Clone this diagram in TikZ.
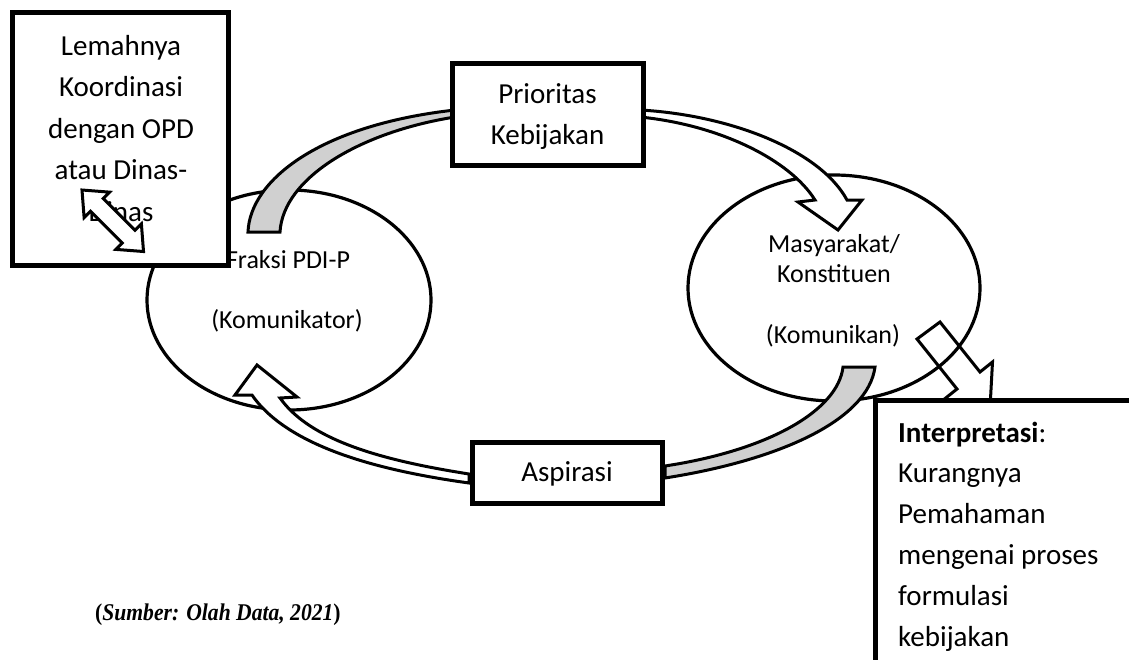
\documentclass[tikz,border=0pt]{standalone}
\usepackage{fontspec}
\setmainfont{Carlito}
\newfontfamily\capfont[FakeStretch=0.9]{Liberation Serif}
\usetikzlibrary{shapes.geometric}
\definecolor{bandgrey}{RGB}{208,208,208}
\tikzset{
  boxthick/.style={draw, line width=5pt, fill=white, inner sep=0pt, outer sep=0pt},
  ovalline/.style={ellipse, draw, line width=3.2pt, inner sep=0pt},
  bandwhite/.style={draw, line width=3pt, fill=white, line join=miter},
  bandgray/.style={draw, line width=3pt, fill=bandgrey, line join=miter},
  boxtxt/.style={font=\fontsize{29}{35}\selectfont, anchor=base, inner sep=0pt},
  ovaltxt/.style={font=\fontsize{26}{31}\selectfont, anchor=base, inner sep=0pt},
  captxt/.style={font=\capfont\fontsize{24}{28}\selectfont\bfseries, anchor=base west, inner sep=0pt}
}
\begin{document}
\begin{tikzpicture}[x=1pt,y=-1pt]
\useasboundingbox (0,0) rectangle (1129,659);
\clip (0,0) rectangle (1129,659);

% small arrow towards Interpretasi
\draw[bandwhite] (917,339) -- (940,322) -- (980,372) -- (992.5,362) -- (990,408)
  -- (944.5,399) -- (957,389) -- cycle;

% ellipses
\node[ovalline, minimum width=284pt, minimum height=220pt] (fraksi) at (289,300) {};
\node[ovalline, minimum width=292pt, minimum height=226pt] (masy) at (834,288) {};

% gray band top-left (Fraksi -> Prioritas)
\draw[bandgray] (248,232) .. controls (250,180) and (320,125) .. (455,110)
  -- (455,117) .. controls (360,132) and (283,178) .. (280,232) -- cycle;

% white arrow top-right (Prioritas -> Masyarakat)
\draw[bandwhite] (640,110) .. controls (730,115) and (820,150) .. (847,200)
  -- (862,200) -- (838,230) -- (798,202) -- (815,200)
  .. controls (790,160) and (720,125) .. (640,117) -- cycle;

% gray band bottom-right (Masyarakat -> Aspirasi)
\draw[bandgray] (843,367) -- (875,367) .. controls (868,420) and (780,460) .. (665,478)
  -- (665,466) .. controls (770,450) and (838,410) .. (843,367) -- cycle;

% white arrow bottom-left (Aspirasi -> Fraksi)
\draw[bandwhite] (469,474) .. controls (380,460) and (310,440) .. (280,398)
  -- (297,397) -- (257,365) -- (235,395) -- (252,395)
  .. controls (290,450) and (390,472) .. (469,483) -- cycle;

% boxes
\node[boxthick, minimum width=216pt, minimum height=253pt] (lemah) at (120,138.5) {};
\node[boxthick, minimum width=191pt, minimum height=102pt] (prio) at (547.5,114) {};
\node[boxthick, minimum width=190pt, minimum height=61pt] (aspi) at (567,472.5) {};
\node[boxthick, minimum width=265pt, minimum height=280pt] (interp) at (1007.5,540) {};

% texts in left box
\node[boxtxt] (l1) at (121,55) {Lemahnya};
\node[boxtxt] (l2) at (121,96.5) {Koordinasi};
\node[boxtxt] (l3) at (121,138) {dengan OPD};
\node[boxtxt] (l4) at (121,179.5) {atau Dinas-};
\node[boxtxt] (l5) at (121,221) {Dinas};

% double arrow in left box
\begin{scope}[shift={(82,190)}, rotate=-45]
\draw[bandwhite] (0,0) -- (21,18) -- (21,9) -- (66,9) -- (66,18) -- (87,0)
  -- (66,-18) -- (66,-9) -- (21,-9) -- (21,-18) -- cycle;
\end{scope}

% Prioritas
\node[boxtxt] (p1) at (547.5,103) {Prioritas};
\node[boxtxt] (p2) at (547.5,144) {Kebijakan};

% Aspirasi
\node[boxtxt] (a1) at (567,481) {Aspirasi};

% ellipse texts
\node[ovaltxt] (f1) at (288,268) {Fraksi PDI-P};
\node[ovaltxt] (f2) at (287,328) {(Komunikator)};
\node[ovaltxt] (m1) at (834,252) {Masyarakat/};
\node[ovaltxt] (m2) at (834,282) {Konstituen};
\node[ovaltxt] (m3) at (833,343) {(Komunikan)};

% Interpretasi texts
\node[boxtxt, anchor=base west] (i1) at (898,442) {\textbf{Interpretasi}:};
\node[boxtxt, anchor=base west] (i2) at (898,482) {Kurangnya};
\node[boxtxt, anchor=base west] (i3) at (898,523) {Pemahaman};
\node[boxtxt, anchor=base west] (i4) at (898,564) {mengenai proses};
\node[boxtxt, anchor=base west] (i5) at (898,605) {formulasi};
\node[boxtxt, anchor=base west] (i6) at (898,646) {kebijakan};

% caption
\node[captxt] (cap) at (95,620) {(\textit{Sumber: Olah Data, 2021})};
\end{tikzpicture}
\end{document}
